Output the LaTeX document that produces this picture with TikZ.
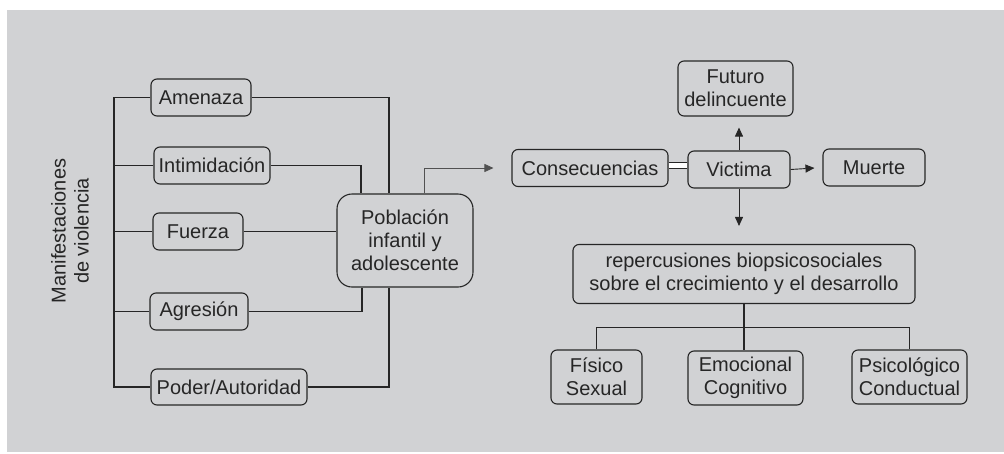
\documentclass[tikz,border=0pt]{standalone}
\usepackage{fontspec}
\setmainfont{Liberation Sans}
\usetikzlibrary{arrows.meta}
\definecolor{bgc}{HTML}{D1D2D4}
\definecolor{ink}{HTML}{262626}
\begin{document}
\begin{tikzpicture}[x=1pt,y=-1pt,
  box/.style={draw=ink, line width=1.1pt, rounded corners=6pt, align=center,
    inner sep=0pt, text=ink, font=\fontsize{20}{23}\selectfont},
  conn/.style={draw=ink, line width=1.1pt},
  arr/.style={draw=ink, line width=0.9pt, -{Triangle[length=9pt,width=8pt]}},
]
\useasboundingbox (0,0) rectangle (1004,453);
\fill[white] (0,0) rectangle (1004,453);
\fill[bgc] (7,10) rectangle (1004,452);

% left group
\node[box, minimum width=100, minimum height=37] (am) at (201,97.5) {Amenaza};
\node[box, minimum width=116, minimum height=37] (in) at (212,165.5) {Intimidación};
\node[box, minimum width=90, minimum height=37] (fu) at (198,231.5) {Fuerza};
\node[box, minimum width=98, minimum height=37] (ag) at (199,311.5) {Agresión};
\node[box, minimum width=156, minimum height=36] (po) at (229,387) {Poder/Autoridad};
\node[box, rounded corners=15pt, minimum width=136, minimum height=93] (pob) at (405,240.5)
  {Población\\infantil y\\adolescente};
\node[rotate=90, align=center, text=ink, font=\fontsize{20}{23}\selectfont] (lab) at (70,231)
  {Manifestaciones\\de violencia};

\coordinate (busT) at (114,97.5);
\coordinate (busB) at (114,387);
\draw[conn] (am.west) -- (busT) -- (busB) -- (po.west);
\draw[conn] (in.west) -- (in.west -| busT);
\draw[conn] (fu.west) -- (fu.west -| busT);
\draw[conn] (ag.west) -- (ag.west -| busT);

\draw[conn] (am.east) -| ([xshift=-16pt]pob.north);
\draw[conn] (in.east) -| ([xshift=-44pt]pob.north);
\draw[conn] (fu.east) -- (fu.east -| pob.west);
\draw[conn] (ag.east) -| ([xshift=-43pt]pob.south);
\draw[conn] (po.east) -| ([xshift=-16pt]pob.south);

% right group
\node[box, minimum width=156, minimum height=37] (cons) at (590,168) {Consecuencias};
\node[box, minimum width=102, minimum height=37] (vic) at (739,169.5) {Victima};
\node[box, minimum width=102, minimum height=37] (mue) at (874,167.5) {Muerte};
\node[box, minimum width=115, minimum height=55] (fut) at (735.5,88.5) {Futuro\\delincuente};
\node[box, minimum width=342, minimum height=59] (rep) at (744,274)
  {repercusiones biopsicosociales\\sobre el crecimiento y el desarrollo};
\node[box, minimum width=91, minimum height=54] (fis) at (596.5,377) {Físico\\Sexual};
\node[box, minimum width=115, minimum height=54] (emo) at (745.5,378) {Emocional\\Cognitivo};
\node[box, minimum width=115, minimum height=54] (psi) at (909.5,377) {Psicológico\\Conductual};

\draw[arr, draw=ink!80, line width=0.8pt, shorten >=18pt] ([xshift=19pt]pob.north) |- (cons.west);
\draw[line width=1pt, draw=ink, double=white, double distance=5pt]
  ([yshift=2.5pt]cons.east) -- ([yshift=2.5pt]cons.east -| vic.west);
\draw[arr, shorten >=8pt] (vic.east) -- (mue.west);
\draw[arr, shorten >=11pt] (vic.north) -- (vic.north |- fut.south);
\draw[arr, shorten >=18pt] (vic.south) -- (vic.south |- rep.north);

\draw[conn] (rep.south) -- (rep.south |- emo.north);
\draw[conn] (fis.north) -- ++(0,-22) -| (psi.north);
\end{tikzpicture}
\end{document}
